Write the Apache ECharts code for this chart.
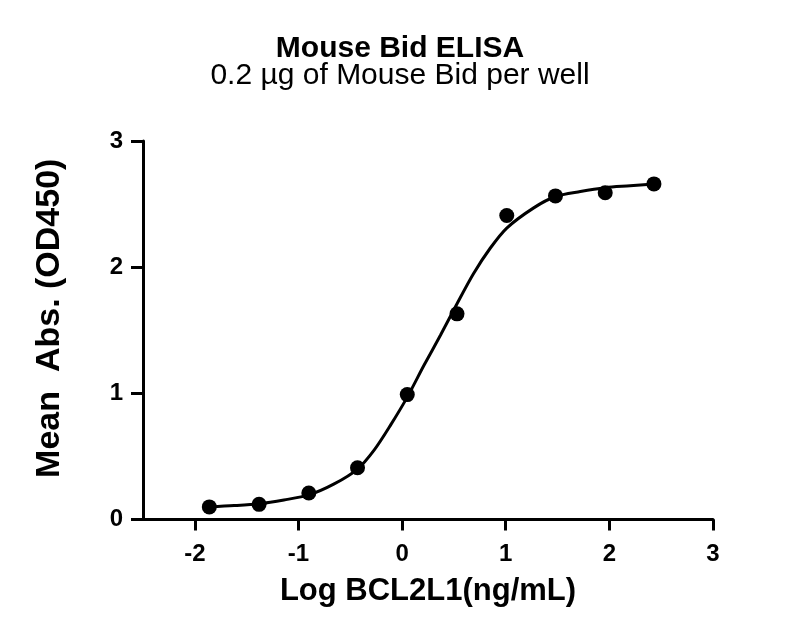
<!DOCTYPE html>
<html>
<head>
    <meta charset="utf-8">
    <title>Mouse Bid ELISA</title>
    <script src="https://cdn.jsdelivr.net/npm/echarts@6/dist/echarts.min.js"></script>
    <style>
        html, body { margin: 0; padding: 0; background: #fff; }
        #chart1 { width: 800px; height: 638px; }
    </style>
</head>
<body>
<div id="chart1"></div>
<script>
    // measured points: log concentration and mean OD450
    var logConc = [-1.86, -1.38, -0.90, -0.43, 0.05, 0.53, 1.01, 1.48, 1.96, 2.43];
    var meanAbs = [0.10, 0.12, 0.21, 0.41, 0.99, 1.63, 2.41, 2.565, 2.59, 2.66];

    // fitted curve
    var curveX = [-1.86, -1.62, -1.38, -1.14, -0.90, -0.66, -0.43, -0.27, -0.11, 0.05, 0.21, 0.37,
                  0.53, 0.69, 0.85, 1.01, 1.27, 1.48, 1.72, 1.96, 2.20, 2.43];
    var curveY = [0.10, 0.11, 0.125, 0.155, 0.195, 0.28, 0.40, 0.55, 0.75, 0.97, 1.22, 1.46,
                  1.71, 1.95, 2.15, 2.31, 2.47, 2.56, 2.60, 2.63, 2.645, 2.66];

    var xTicks = [-2, -1, 0, 1, 2, 3];

    var points = logConc.map(function (x, i) { return [x, meanAbs[i]]; });
    var curve = curveX.map(function (x, i) { return [x, curveY[i]]; });

    var font = 'Liberation Sans, Arial, sans-serif';
    var myChart1 = echarts.init(document.getElementById('chart1'));
    myChart1.setOption({
        animation: false,
        title: {
            text: 'Mouse Bid ELISA',
            subtext: '0.2 µg of Mouse Bid per well',
            left: 'center',
            top: 29,
            itemGap: -3,
            textStyle: {fontFamily: font, fontSize: 30, fontWeight: 'bold', color: '#000'},
            subtextStyle: {fontFamily: font, fontSize: 30, color: '#000'}
        },
        grid: {left: 143, right: 87, top: 141, bottom: 118.5, containLabel: false},
        xAxis: {
            type: 'value',
            min: -2.5,
            max: 3,
            name: 'Log BCL2L1(ng/mL)',
            nameLocation: 'middle',
            nameGap: 56,
            nameTextStyle: {fontFamily: font, fontSize: 31, fontWeight: 'bold', color: '#000'},
            splitLine: {show: false},
            axisLine: {lineStyle: {color: '#000', width: 3}},
            axisTick: {length: 11, lineStyle: {color: '#000', width: 3}, customValues: xTicks},
            axisLabel: {
                customValues: xTicks,
                margin: 23,
                fontFamily: font, fontSize: 24, fontWeight: 'bold', color: '#000'
            }
        },
        yAxis: {
            type: 'value',
            min: 0,
            max: 3,
            interval: 1,
            name: 'Mean  Abs. (OD450)',
            nameLocation: 'middle',
            nameGap: 76,
            nameTextStyle: {
                fontFamily: font, fontSize: 34, fontWeight: 'bold', color: '#000',
                padding: [0, 0, 0, 24]
            },
            splitLine: {show: false},
            axisLine: {show: true, onZero: false, lineStyle: {color: '#000', width: 3}},
            axisTick: {show: true, length: 12, lineStyle: {color: '#000', width: 3}},
            axisLabel: {margin: 20, fontFamily: font, fontSize: 24, fontWeight: 'bold', color: '#000'}
        },
        series: [
            {
                name: 'fit',
                type: 'line',
                data: curve,
                smooth: 0.3,
                showSymbol: false,
                lineStyle: {color: '#000', width: 3}
            },
            {
                name: 'Mean Abs.',
                type: 'scatter',
                data: points,
                symbol: 'circle',
                symbolSize: 15,
                itemStyle: {color: '#000', opacity: 1}
            }
        ]
    });
</script>
</body>
</html>
